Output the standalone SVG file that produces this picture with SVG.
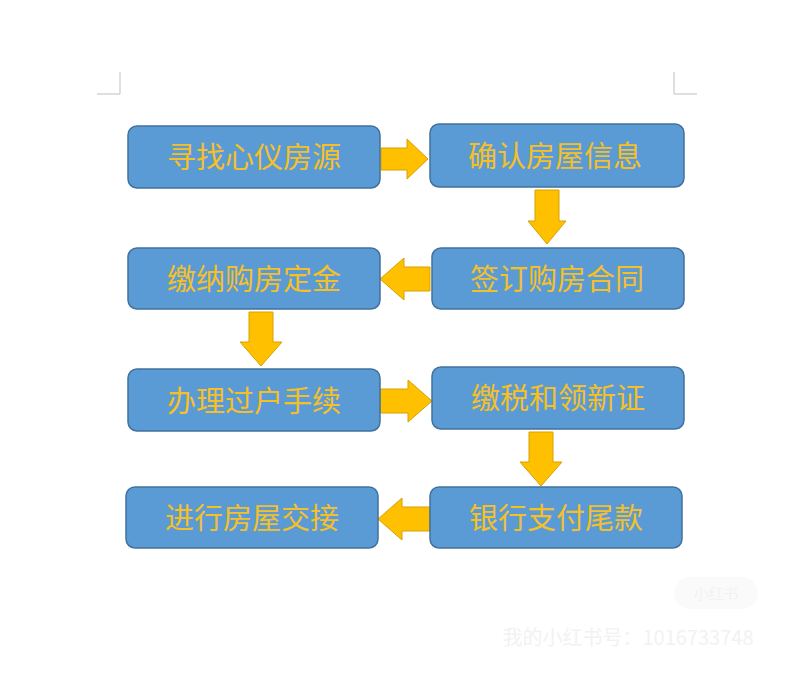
<svg xmlns="http://www.w3.org/2000/svg" width="795" height="675" viewBox="0 0 795 675">
<style>
.box{fill:#5b9bd5;stroke:#41719c;stroke-width:1.5}
.t{font-family:"Noto Sans CJK SC",sans-serif;font-size:29px;fill:#f5c027;text-anchor:middle;dominant-baseline:central}
.ar{fill:#ffc000;stroke:#d6a100;stroke-width:1}
.wm{font-family:"Noto Sans CJK SC",sans-serif;fill:#f2f2f2}
</style>
<rect width="795" height="675" fill="#fff"/>
<path d="M120 72V94H97M674 72V94H697" fill="none" stroke="#bfbfbf" stroke-width="1"/>
<g id="connectors">
<polygon class="ar" points="381,148 407,148 407,139 428,159 407,179 407,170 381,170"/>
<polygon class="ar" points="535,190 559,190 559,221 566,221 547,244 528,221 535,221"/>
<polygon class="ar" points="430,267 404,267 404,258 380,279 404,300 404,291 430,291"/>
<polygon class="ar" points="249,312 273,312 273,342 282,342 261,366 240,342 249,342"/>
<polygon class="ar" points="380,389 408,389 408,380 432,401 408,422 408,413 380,413"/>
<polygon class="ar" points="529,432 553,432 553,462 562,462 541,486 520,462 529,462"/>
<polygon class="ar" points="430,507 402,507 402,498 378,519 402,540 402,531 430,531"/>
</g>
<g id="n1"><rect class="box" x="128" y="126" width="252" height="62" rx="9"/><text class="t" x="254" y="155">寻找心仪房源</text></g>
<g id="n2"><rect class="box" x="430" y="124" width="254" height="63" rx="9"/><text class="t" x="555" y="154">确认房屋信息</text></g>
<g id="n3"><rect class="box" x="432" y="248" width="252" height="61" rx="9"/><text class="t" x="557" y="277">签订购房合同</text></g>
<g id="n4"><rect class="box" x="128" y="248" width="252" height="61" rx="9"/><text class="t" x="254" y="277">缴纳购房定金</text></g>
<g id="n5"><rect class="box" x="128" y="369" width="252" height="62" rx="9"/><text class="t" x="254" y="399">办理过户手续</text></g>
<g id="n6"><rect class="box" x="432" y="367" width="252" height="62" rx="9"/><text class="t" x="558" y="396">缴税和领新证</text></g>
<g id="n7"><rect class="box" x="430" y="487" width="252" height="61" rx="9"/><text class="t" x="556" y="516">银行支付尾款</text></g>
<g id="n8"><rect class="box" x="126" y="487" width="252" height="61" rx="9"/><text class="t" x="252" y="516">进行房屋交接</text></g>
<rect x="674" y="577" width="84" height="32" rx="16" fill="#fafafa"/>
<text class="wm" x="716" y="599" font-size="15" text-anchor="middle">小红书</text>
<text class="wm" x="628" y="645" font-size="20" text-anchor="middle">我的小红书号：1016733748</text>
</svg>
